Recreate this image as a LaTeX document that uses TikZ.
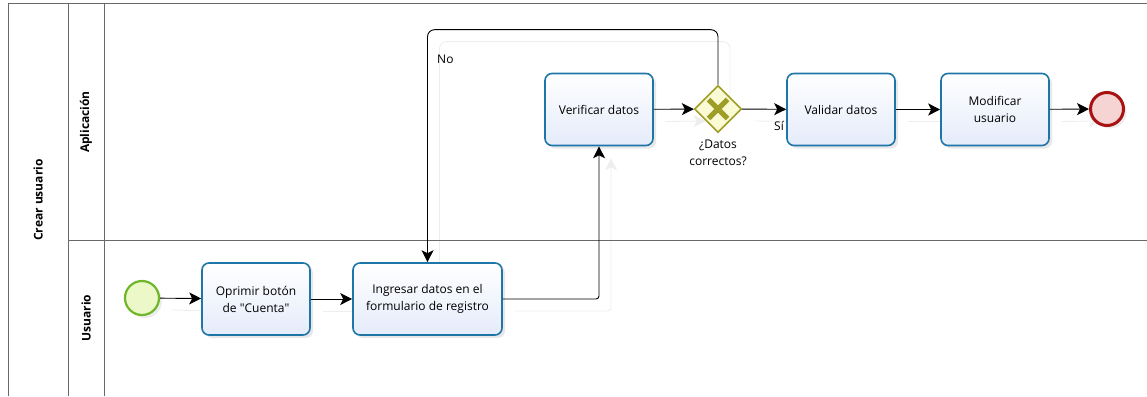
\documentclass[tikz,border=0pt]{standalone}
\usepackage{fontspec}
\setmainfont{Open Sans}
\usetikzlibrary{shapes.geometric,arrows.meta,shadows,calc,backgrounds}

\definecolor{lanegray}{RGB}{105,105,105}
\definecolor{taskblue}{RGB}{30,118,168}
\definecolor{taskfill}{RGB}{228,235,250}
\definecolor{startgreen}{RGB}{112,182,42}
\definecolor{startfill}{RGB}{236,248,200}
\definecolor{endred}{RGB}{168,18,18}
\definecolor{endfill}{RGB}{246,212,212}
\definecolor{gwolive}{RGB}{158,158,38}
\definecolor{gwfill}{RGB}{250,250,212}
\definecolor{ghost}{RGB}{238,238,238}

\begin{document}
\begin{tikzpicture}[x=1pt,y=-1pt,
  lane/.style={draw=lanegray,line width=1pt},
  lanelabel/.style={rotate=90,font=\bfseries\fontsize{12}{14}\selectfont},
  task/.style={draw=taskblue,line width=1.6pt,rounded corners=7pt,
    minimum height=72pt,align=center,inner sep=2pt,
    font=\fontsize{12}{17}\selectfont,
    top color=white,bottom color=taskfill,
    drop shadow={shadow xshift=3pt,shadow yshift=-3pt,opacity=0.18}},
  startev/.style={circle,draw=startgreen,line width=2.2pt,fill=startfill,
    minimum size=34pt,inner sep=0pt,
    drop shadow={shadow xshift=3pt,shadow yshift=-3pt,opacity=0.15}},
  endev/.style={circle,draw=endred,line width=3pt,fill=endfill,
    minimum size=33pt,inner sep=0pt,
    drop shadow={shadow xshift=3pt,shadow yshift=-3pt,opacity=0.15}},
  gateway/.style={diamond,draw=gwolive,line width=1.6pt,fill=gwfill,
    minimum size=47pt,inner sep=0pt},
  flow/.style={draw=black,line width=0.9pt,
    -{Stealth[length=12pt,width=12pt,inset=3pt]}},
  ghostflow/.style={draw=ghost,line width=0.9pt,
    -{Stealth[length=12pt,width=12pt,inset=3pt]}},
  lbl/.style={font=\fontsize{12}{17}\selectfont,inner sep=0pt}
]
\useasboundingbox (0,0) rectangle (1147,396);

% pool and lanes
\draw[lane] (8,396) -- (8,4) -- (1147,4);
\draw[lane] (68,4) -- (68,396);
\draw[lane] (104,4) -- (104,396);
\draw[lane] (68,240) -- (1147,240);
\node[lanelabel] (pool) at (38,200) {Crear usuario};
\node[lanelabel] (laneapp) at (86,122) {Aplicación};
\node[lanelabel] (laneuser) at (86,318) {Usuario};

% flow objects
\node[startev] (start) at (142,298) {};
\node[task,minimum width=108pt] (t1) at (256,299) {Oprimir botón\\de \textquotedbl Cuenta\textquotedbl};
\node[task,minimum width=149pt] (t2) at (427.5,299) {Ingresar datos en el\\formulario de registro};
\node[task,minimum width=108pt] (ver) at (599,109.5) {Verificar datos};
\node[gateway] (gw) at (718,109) {};
\node[task,minimum width=108pt] (val) at (841,109.5) {Validar datos};
\node[task,minimum width=108pt] (mod) at (995,109.5) {Modificar\\usuario};
\node[endev] (end) at (1107,109) {};

% exclusive gateway marker
\draw[gwolive,line width=5pt] ($(gw)+(-9.5,-9.5)$) -- ($(gw)+(9.5,9.5)$);
\draw[gwolive,line width=5pt] ($(gw)+(-9.5,9.5)$) -- ($(gw)+(9.5,-9.5)$);

% faint connector shadows, behind everything
\begin{scope}[on background layer]
\draw[ghostflow] ([shift={(12,12)}]start.east) -- ([shift={(12,12)}]t1.west);
\draw[ghostflow] ([shift={(12,12)}]t1.east) -- ([shift={(12,12)}]t2.west);
\draw[ghostflow,rounded corners=3pt] ([shift={(12,12)}]t2.east) -| ([shift={(12,12)}]ver.south);
\draw[ghostflow] ([shift={(12,12)}]ver.east) -- ([shift={(12,12)}]gw.west);
\draw[ghostflow] ([shift={(12,12)}]gw.east) -- ([shift={(12,12)}]val.west);
\draw[ghostflow] ([shift={(12,12)}]val.east) -- ([shift={(12,12)}]mod.west);
\draw[ghostflow] ([shift={(12,12)}]mod.east) -- ([shift={(12,12)}]end.west);
\draw[ghostflow,rounded corners=7pt] ([shift={(12,12)}]gw.north) -- ++(0,-55) -| ([shift={(12,12)}]t2.north);
\end{scope}

% sequence flows
\draw[flow] (start) -- (t1);
\draw[flow] (t1) -- (t2);
\draw[flow,rounded corners=3pt] (t2.east) -| (ver.south);
\draw[flow] (ver) -- (gw);
\draw[flow] (gw) -- (val);
\draw[flow] (val) -- (mod);
\draw[flow] (mod) -- (end);
\draw[flow,rounded corners=7pt] (gw.north) -- ++(0,-55) coordinate (looptop) -| (t2.north);

% labels
\node[lbl,anchor=west] (no) at (437,59) {No};
\node[lbl] (si) at (779,126) {Sí};
\node[lbl,align=center,anchor=north] (gwlabel) at (718,140) {¿Datos\\correctos?};
\end{tikzpicture}
\end{document}
